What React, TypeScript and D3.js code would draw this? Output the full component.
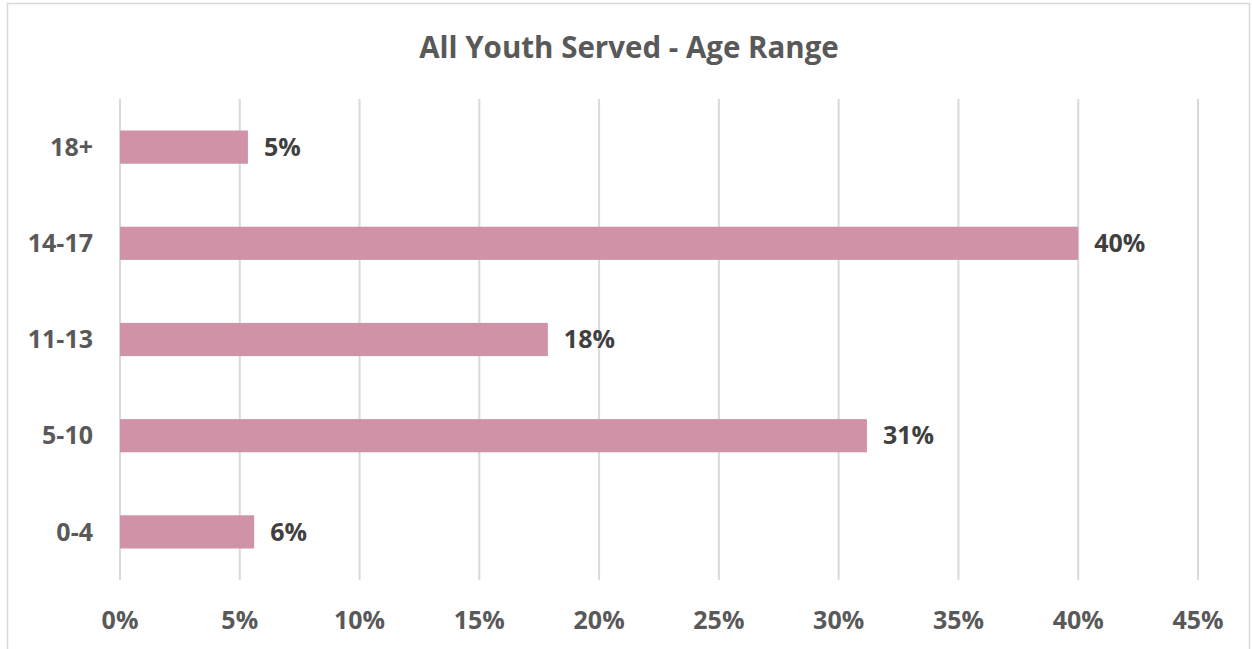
import React from "react";
import * as d3 from "d3";

const categories = ["18+", "14-17", "11-13", "5-10", "0-4"];
const values = [5.34, 40.0, 17.86, 31.18, 5.6];
const valueLabels = ["5%", "40%", "18%", "31%", "6%"];
const xTicks = [0, 5, 10, 15, 20, 25, 30, 35, 40, 45];
const title = "All Youth Served - Age Range";

const W = 1252;
const H = 649;
const FONT = "'Open Sans', 'Liberation Sans', sans-serif";

export default function App() {
  const x = d3.scaleLinear().domain([0, 45]).range([120, 1198]);
  const y = d3.scaleBand<string>().domain(categories).range([99, 580]).paddingInner(0.655).paddingOuter(0.3275);

  return (
    <svg width={W} height={H} style={{ position: "absolute", left: 0, top: 0 }}>
      <rect x={0} y={0} width={W} height={H} fill="#fff" />
      <rect x={7.5} y={3.5} width={1242} height={660} fill="none" stroke="#d9d9d9" strokeWidth={1.5} />
      <text x={629} y={58} textAnchor="middle" fontFamily={FONT} fontWeight="bold" fontSize={29.5} fill="#595959">
        {title}
      </text>
      {xTicks.map((t) => (
        <g key={t}>
          <line x1={x(t)} x2={x(t)} y1={99} y2={580} stroke="#d9d9d9" strokeWidth={2} />
          <text x={x(t)} y={629} textAnchor="middle" fontFamily={FONT} fontWeight="bold" fontSize={25} fill="#595959">
            {t}%
          </text>
        </g>
      ))}
      {categories.map((c, i) => {
        const yy = y(c)!;
        const bw = y.bandwidth();
        return (
          <g key={c}>
            <rect x={x(0)} y={yy} width={x(values[i]) - x(0)} height={bw} fill="#d092a7" />
            <text x={93} y={yy + bw / 2} dy="0.35em" textAnchor="end" fontFamily={FONT} fontWeight="bold" fontSize={25} fill="#595959">
              {c}
            </text>
            <text x={x(values[i]) + 16} y={yy + bw / 2} dy="0.35em" textAnchor="start" fontFamily={FONT} fontWeight="bold" fontSize={25} fill="#404040">
              {valueLabels[i]}
            </text>
          </g>
        );
      })}
    </svg>
  );
}
